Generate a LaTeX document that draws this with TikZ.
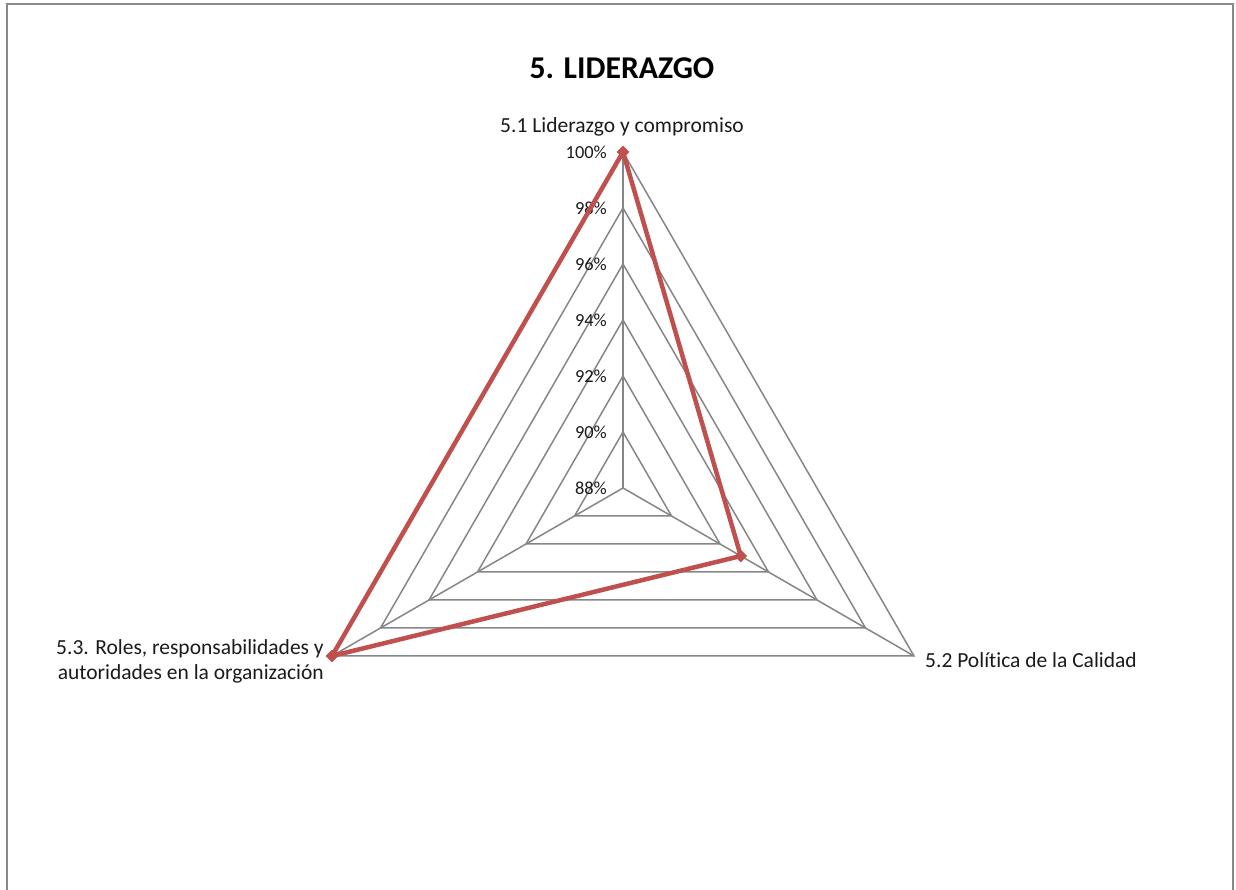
\documentclass[tikz,border=0pt]{standalone}
\usepackage{fontspec}
\setmainfont[Ligatures=NoCommon]{Carlito}
\usetikzlibrary{shapes.geometric}
\definecolor{gridgray}{HTML}{868686}
\definecolor{framegray}{HTML}{888888}
\definecolor{seriesred}{HTML}{C0504D}
\definecolor{txt}{HTML}{1A1A1A}
\tikzset{
  gridline/.style={draw=gridgray, line width=1.5pt},
  series/.style={draw=seriesred, line width=4.5pt, line join=round},
  marker/.style={diamond, fill=seriesred, inner sep=0pt, minimum size=13pt},
  pct/.style={anchor=east, text=txt, font=\fontsize{18.4}{21}\selectfont, inner sep=0pt},
  catlabel/.style={text=txt, font=\fontsize{21.5}{25}\selectfont, inner sep=0pt},
}
\begin{document}
\begin{tikzpicture}[x=1pt,y=1pt]
  \useasboundingbox (0,0) rectangle (1236,890);
  % outer frame (open at the bottom)
  \draw[framegray, line width=2pt] (6.5,0) -- (6.5,885.5) -- (1233,885.5) -- (1233,0);
  % title
  \node[font=\bfseries\fontsize{31.7}{36}\selectfont, text=black] (title) at (622,822) {5. LIDERAZGO};
  \begin{scope}[shift={(623,402)}]
    \coordinate (c) at (0,0);
    % concentric triangles, 90% .. 100%
    \foreach \k in {1,...,6} {
      \draw[gridline] (90:{56*\k pt}) -- (-30:{56*\k pt}) -- (210:{56*\k pt}) -- cycle;
    }
    % axes
    \coordinate (a1) at (90:336pt);
    \coordinate (a2) at (-30:336pt);
    \coordinate (a3) at (210:336pt);
    \draw[gridline] (c) -- (a1);
    \draw[gridline] (c) -- (a2);
    \draw[gridline] (c) -- (a3);
    % scale labels
    \foreach \k/\v in {0/88,1/90,2/92,3/94,4/96,5/98,6/100} {
      \node[pct] (l\v) at (-16,{56*\k}) {\v\%};
    }
    % data series
    \coordinate (p1) at (90:336pt);
    \coordinate (p2) at (-30:136pt);
    \coordinate (p3) at (210:336pt);
    \draw[series] (p1) -- (p2) -- (p3) -- cycle;
    \node[marker] (m1) at (p1) {};
    \node[marker] (m2) at (p2) {};
    \node[marker] (m3) at (p3) {};
  \end{scope}
  % category labels
  \node[catlabel] (cat1) at (622,763) {5.1 Liderazgo y compromiso};
  \node[catlabel, anchor=west] (cat2) at (925,230) {5.2 Política de la Calidad};
  \node[catlabel, anchor=east, align=right] (cat3) at (324,229) {5.3. Roles, responsabilidades y\\autoridades en la organización};
\end{tikzpicture}
\end{document}
